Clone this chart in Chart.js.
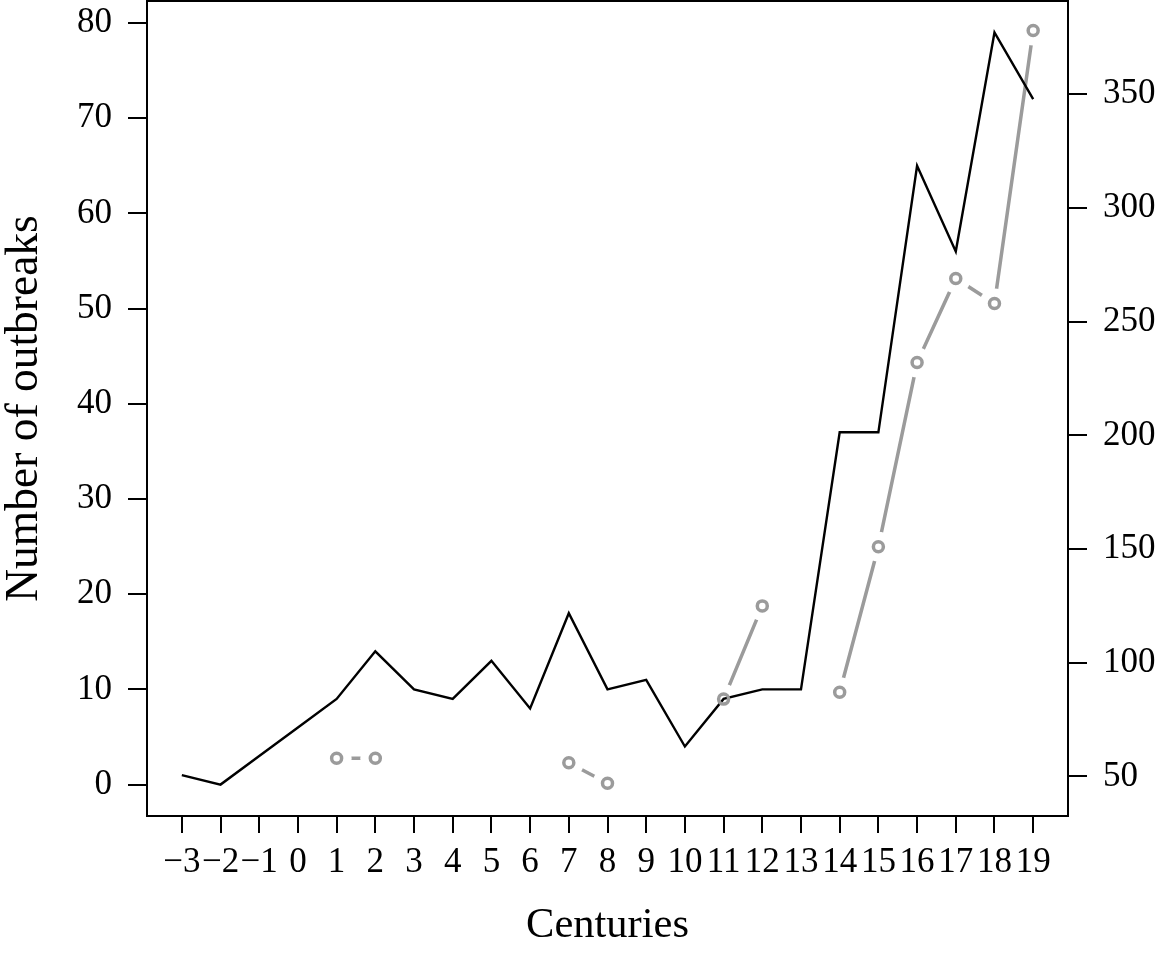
<!DOCTYPE html>
<html lang="en">
    <head>
        <meta charset="UTF-8">
        <title>Outbreaks by century</title>
        <style>
            html, body { margin: 0; padding: 0; background: #ffffff; }
            canvas { display: block; }
        </style>
    </head>

    <body>
        <canvas id="myChartCanvas" width="1158" height="953"></canvas>
    </body>
</html>

<script src="https://cdn.jsdelivr.net/npm/chart.js"></script>

<script>
    // valores
    const centuries = [-3, -2, -1, 0, 1, 2, 3, 4, 5, 6, 7, 8, 9, 10, 11, 12, 13, 14, 15, 16, 17, 18, 19];
    const outbreaks = [1, 0, 3, 6, 9, 14, 10, 9, 13, 8, 18, 10, 11, 4, 9, 10, 10, 37, 37, 65, 56, 79, 72];
    const rightSeries = [null, null, null, null, 58, 58, null, null, null, null, 56, 47, null, null, 84, 125, null, 87, 151, 232, 269, 258, 378];

    const leftTicks = [0, 10, 20, 30, 40, 50, 60, 70, 80];
    const rightTicks = [50, 100, 150, 200, 250, 300, 350];

    const GRAY = '#9b9b9b';
    const FONT = 'Liberation Serif';

    function toPoints(values) {
        return centuries.map((c, i) => ({ x: c, y: values[i] }));
    }

    const boxPlugin = {
        id: 'boxPlugin',
        afterDraw(chart) {
            const a = chart.chartArea;
            const ctx = chart.ctx;
            ctx.save();
            ctx.strokeStyle = 'black';
            ctx.lineWidth = 2;
            ctx.beginPath();
            ctx.moveTo(a.left - 1, a.top);
            ctx.lineTo(a.right + 1, a.top);
            ctx.stroke();
            ctx.restore();
        }
    };

    function axisGrid(len) {
        return { drawOnChartArea: false, drawTicks: true, tickLength: len, color: 'black', lineWidth: 2 };
    }

    const ctx = document.getElementById('myChartCanvas').getContext('2d');

    new Chart(ctx, {
        type: 'line',
        data: {
            datasets: [
                {
                    // marcadores cinza
                    data: toPoints(rightSeries),
                    yAxisID: 'yR',
                    showLine: false,
                    pointRadius: 5,
                    pointBorderWidth: 3.5,
                    pointBorderColor: GRAY,
                    pointBackgroundColor: 'rgba(0,0,0,0)',
                    order: 0
                },
                {
                    data: toPoints(outbreaks),
                    yAxisID: 'yL',
                    borderColor: 'black',
                    borderWidth: 2.4,
                    pointRadius: 0,
                    tension: 0,
                    order: 1
                },
                {
                    // linha cinza, com circulos brancos para abrir o espaco perto dos pontos
                    data: toPoints(rightSeries),
                    yAxisID: 'yR',
                    borderColor: GRAY,
                    borderWidth: 3.5,
                    pointRadius: 15,
                    pointBorderWidth: 0,
                    pointBackgroundColor: 'white',
                    spanGaps: false,
                    tension: 0,
                    order: 2
                }
            ]
        },
        options: {
            responsive: false,
            animation: false,
            devicePixelRatio: 1,
            events: [],
            layout: { autoPadding: false, padding: { top: 1, left: 0, right: 0, bottom: 0 } },
            plugins: {
                legend: { display: false },
                tooltip: { enabled: false }
            },
            scales: {
                x: {
                    type: 'linear',
                    position: 'bottom',
                    min: -3.9,
                    max: 19.9,
                    afterBuildTicks: (s) => { s.ticks = centuries.map(v => ({ value: v })); },
                    afterFit: (s) => { s.height = 137; },
                    grid: axisGrid(17),
                    border: { display: true, color: 'black', width: 2 },
                    ticks: {
                        autoSkip: false,
                        maxRotation: 0,
                        minRotation: 0,
                        padding: 9,
                        color: 'black',
                        font: { family: FONT, size: 35 },
                        callback: (v) => String(v).replace('-', '\u2212')
                    },
                    title: {
                        display: true,
                        text: 'Centuries',
                        color: 'black',
                        font: { family: FONT, size: 42.5, lineHeight: 1 },
                        padding: { top: 0, bottom: 6 }
                    }
                },
                yL: {
                    type: 'linear',
                    position: 'left',
                    min: -3.3,
                    max: 82.3,
                    afterBuildTicks: (s) => { s.ticks = leftTicks.map(v => ({ value: v })); },
                    afterFit: (s) => { s.width = 147; s.paddingTop = 0; s.paddingBottom = 0; },
                    grid: axisGrid(19),
                    border: { display: true, color: 'black', width: 2 },
                    ticks: {
                        padding: 16,
                        color: 'black',
                        font: { family: FONT, size: 35 }
                    },
                    title: {
                        display: true,
                        text: 'Number of outbreaks',
                        color: 'black',
                        font: { family: FONT, size: 45.5, lineHeight: 1 },
                        padding: { top: 2, bottom: 0 }
                    }
                },
                yR: {
                    type: 'linear',
                    position: 'right',
                    min: 32.6,
                    max: 391,
                    afterBuildTicks: (s) => { s.ticks = rightTicks.map(v => ({ value: v })); },
                    afterFit: (s) => { s.width = 90; s.paddingTop = 0; s.paddingBottom = 0; },
                    grid: axisGrid(19),
                    border: { display: true, color: 'black', width: 2 },
                    ticks: {
                        padding: 16,
                        color: 'black',
                        font: { family: FONT, size: 35 }
                    }
                }
            }
        },
        plugins: [boxPlugin]
    });
</script>
